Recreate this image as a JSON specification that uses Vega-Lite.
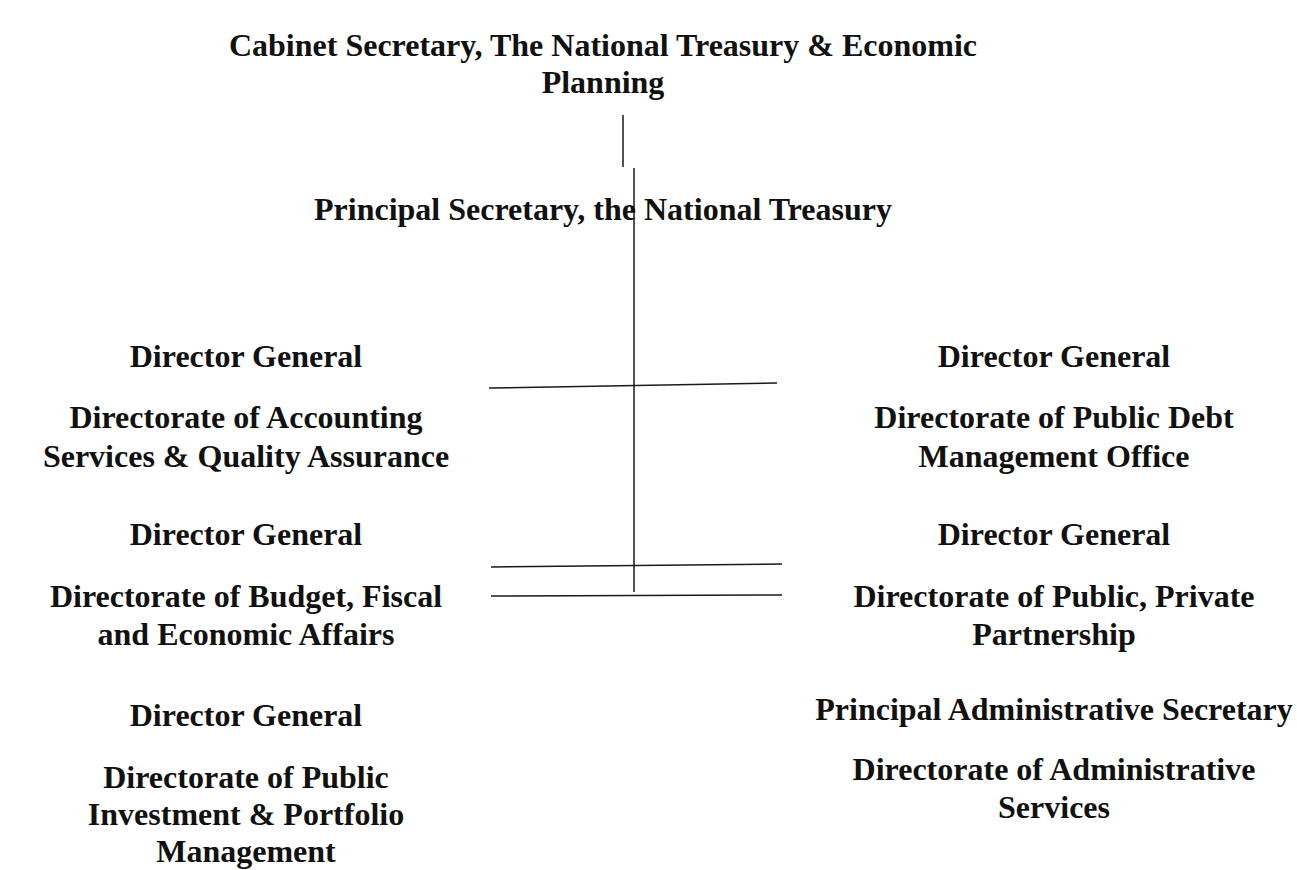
{
  "$schema": "https://vega.github.io/schema/vega-lite/v6.json",
  "width": 1297,
  "height": 870,
  "padding": 0,
  "autosize": {"type": "none"},
  "background": "white",
  "config": {"view": {"stroke": null}},
  "datasets": {
    "labels": [
      {"label": "Cabinet Secretary, The National Treasury & Economic", "x": 603, "y": 46},
      {"label": "Planning", "x": 603, "y": 83},
      {"label": "Principal Secretary, the National Treasury", "x": 603, "y": 210},
      {"label": "Director General", "x": 246, "y": 357},
      {"label": "Directorate of Accounting", "x": 246, "y": 418},
      {"label": "Services & Quality Assurance", "x": 246, "y": 457},
      {"label": "Director General", "x": 246, "y": 535},
      {"label": "Directorate of Budget, Fiscal", "x": 246, "y": 597},
      {"label": "and Economic Affairs", "x": 246, "y": 635},
      {"label": "Director General", "x": 246, "y": 716},
      {"label": "Directorate of Public", "x": 246, "y": 778},
      {"label": "Investment & Portfolio", "x": 246, "y": 815},
      {"label": "Management", "x": 246, "y": 852},
      {"label": "Director General", "x": 1054, "y": 357},
      {"label": "Directorate of Public Debt", "x": 1054, "y": 418},
      {"label": "Management Office", "x": 1054, "y": 457},
      {"label": "Director General", "x": 1054, "y": 535},
      {"label": "Directorate of Public, Private", "x": 1054, "y": 597},
      {"label": "Partnership", "x": 1054, "y": 635},
      {"label": "Principal Administrative Secretary", "x": 1054, "y": 710},
      {"label": "Directorate of Administrative", "x": 1054, "y": 770},
      {"label": "Services", "x": 1054, "y": 808}
    ],
    "links": [
      {"x": 623, "y": 115, "x2": 623, "y2": 167},
      {"x": 634, "y": 168, "x2": 634, "y2": 592},
      {"x": 489, "y": 388, "x2": 777, "y2": 383},
      {"x": 491, "y": 567, "x2": 782, "y2": 564},
      {"x": 491, "y": 596, "x2": 782, "y2": 595}
    ]
  },
  "layer": [
    {
      "data": {"name": "links"},
      "mark": {"type": "rule", "stroke": "#1a1a1a", "strokeWidth": 1.5},
      "encoding": {
        "x": {"field": "x", "type": "quantitative", "scale": {"domain": [0, 1297], "nice": false, "zero": false}, "axis": null},
        "y": {"field": "y", "type": "quantitative", "scale": {"domain": [0, 870], "nice": false, "zero": false, "reverse": true}, "axis": null},
        "x2": {"field": "x2"},
        "y2": {"field": "y2"}
      }
    },
    {
      "data": {"name": "labels"},
      "mark": {"type": "text", "font": "Liberation Serif", "fontWeight": "bold", "fontSize": 32, "align": "center", "baseline": "middle", "color": "#111111"},
      "encoding": {
        "x": {"field": "x", "type": "quantitative", "scale": {"domain": [0, 1297], "nice": false, "zero": false}, "axis": null},
        "y": {"field": "y", "type": "quantitative", "scale": {"domain": [0, 870], "nice": false, "zero": false, "reverse": true}, "axis": null},
        "text": {"field": "label", "type": "nominal"}
      }
    }
  ]
}
